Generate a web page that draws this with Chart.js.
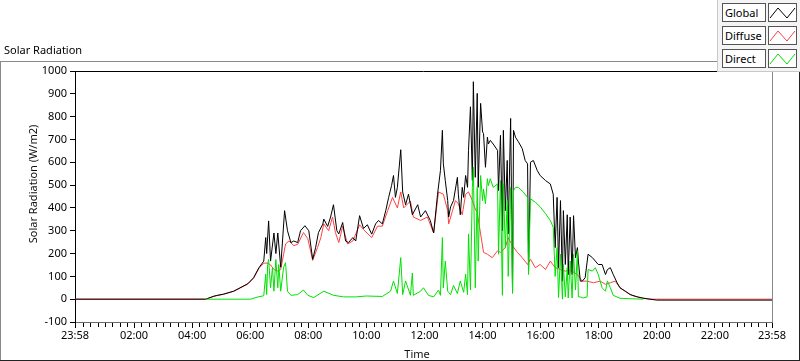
<!DOCTYPE html>
<html lang="en">
<head>
    <meta charset="UTF-8">
    <title>Solar Radiation</title>
    <script src="https://cdn.jsdelivr.net/npm/chart.js"></script>
    <style>
        body { margin: 0; background: #fff; font-family: "Noto Sans", sans-serif; }
        #wrap { position: relative; width: 800px; height: 361px; overflow: hidden; }
        #chart { position: absolute; left: 0; top: 0; }
        .frame { position: absolute; }
        #title { position: absolute; left: 4px; top: 42px; font-size: 11px; color: #000; }
        #ytitle { position: absolute; left: 32px; top: 184px; font-size: 11px; color: #111;
                  transform: translate(-50%, -50%) rotate(-90deg); white-space: nowrap; }
        #xtitle { position: absolute; left: 417px; top: 353px; font-size: 11px; color: #111;
                  transform: translate(-50%, -50%); }
        #legend { position: absolute; left: 717px; top: 0; width: 82px; height: 71px; background: #f4f4f4;
                  border-left: 1px solid #c8c8c8; border-bottom: 1px solid #c8c8c8; }
        .lbl { position: absolute; left: 4px; width: 40px; height: 17px; background: #fff; border: 1px solid #555;
               font-size: 11px; line-height: 17px; padding-left: 2px; box-sizing: content-box; color: #000; }
        .ico { position: absolute; left: 50px; width: 27px; height: 17px; background: #fff; border: 1px solid #555; }
    </style>
</head>
<body>
<div id="wrap">
    <canvas id="chart" width="800" height="361"></canvas>

    <!-- panel frame -->
    <div class="frame" style="left:0;top:61px;width:717px;height:1px;background:#8a8a8a"></div>
    <div class="frame" style="left:0;top:61px;width:1px;height:300px;background:#8a8a8a"></div>
    <div class="frame" style="left:0;top:360px;width:800px;height:1px;background:#222"></div>
    <div class="frame" style="left:799px;top:72px;width:1px;height:289px;background:#222"></div>

    <div id="title">Solar Radiation</div>
    <div id="ytitle">Solar Radiation (W/m2)</div>
    <div id="xtitle">Time</div>

    <div id="legend">
        <div class="lbl" style="top:3px">Global</div>
        <div class="ico" style="top:3px"><svg width="27" height="17"><polyline points="1,14 9,4 18,14 26,4" fill="none" stroke="#000" stroke-width="1"/></svg></div>
        <div class="lbl" style="top:26px">Diffuse</div>
        <div class="ico" style="top:26px"><svg width="27" height="17"><polyline points="1,14 9,4 18,14 26,4" fill="none" stroke="#ff4040" stroke-width="1"/></svg></div>
        <div class="lbl" style="top:49px">Direct</div>
        <div class="ico" style="top:49px"><svg width="27" height="17"><polyline points="1,14 9,4 18,14 26,4" fill="none" stroke="#00e000" stroke-width="1"/></svg></div>
    </div>
</div>

<script>
// time = minutes since midnight (-2 = 23:58 the day before, 1438 = 23:58)
const globalTime = [-2, 268, 285, 293, 305, 326, 355, 367, 378, 388, 392, 394, 398, 402, 409, 413, 417, 423, 431, 437,
    444, 450, 458, 464, 473, 481, 489, 495, 501, 510, 512, 520, 526, 532, 539, 543, 551, 557, 563, 572,
    578, 586, 594, 602, 611, 619, 625, 633, 640, 646, 652, 656, 660, 664, 671, 675, 681, 687, 695, 706,
    712, 722, 732, 739, 747, 753, 757, 759, 763, 768, 770, 774, 780, 788, 790, 794, 798, 801, 805, 809,
    811, 815, 819, 821, 825, 829, 831, 836, 840, 842, 846, 850, 852, 856, 862, 871, 873, 877, 881, 883,
    887, 891, 893, 898, 902, 904, 908, 914, 922, 928, 933, 935, 939, 945, 953, 959, 970, 980, 986, 990,
    994, 997, 1001, 1005, 1007, 1011, 1015, 1017, 1021, 1025, 1028, 1032, 1036, 1038, 1042, 1046, 1052, 1058, 1067, 1073,
    1079, 1087, 1094, 1098, 1104, 1110, 1118, 1124, 1135, 1145, 1160, 1172, 1186, 1200, 1438];
const globalValues = [0, 0, 13, 17, 22, 35, 68, 94, 138, 167, 270, 200, 343, 167, 290, 200, 290, 140, 388, 300,
    248, 255, 248, 300, 322, 300, 175, 225, 292, 329, 351, 319, 360, 414, 300, 286, 336, 255, 248, 270,
    255, 366, 310, 326, 285, 330, 345, 330, 388, 446, 498, 542, 446, 490, 655, 470, 414, 460, 370, 414,
    360, 388, 345, 290, 460, 564, 740, 593, 520, 432, 360, 405, 432, 534, 460, 370, 490, 446, 542, 490,
    652, 843, 520, 953, 534, 902, 490, 858, 733, 726, 578, 710, 680, 696, 680, 652, 476, 718, 300, 740,
    388, 608, 286, 792, 35, 740, 710, 690, 660, 608, 593, 123, 600, 608, 564, 542, 520, 505, 460, 226,
    446, 138, 432, 79, 388, 152, 370, 108, 360, 108, 366, 182, 226, 167, 79, 79, 94, 197, 182, 167,
    152, 152, 108, 130, 138, 108, 72, 50, 35, 20, 10, 4, 0, -4, -4];

const diffuseTime = [-2, 268, 285, 293, 305, 326, 355, 367, 378, 388, 396, 402, 409, 417, 423, 429, 433, 440, 450, 458,
    470, 479, 489, 499, 506, 512, 522, 530, 536, 543, 551, 561, 572, 586, 594, 611, 623, 633, 644, 654,
    664, 671, 677, 691, 697, 712, 726, 739, 749, 759, 768, 770, 778, 784, 790, 798, 805, 811, 819, 825,
    829, 836, 842, 850, 860, 871, 877, 887, 893, 902, 912, 922, 933, 939, 949, 959, 970, 980, 990, 1001,
    1011, 1021, 1036, 1046, 1056, 1069, 1083, 1094, 1104, 1114, 1124, 1139, 1151, 1166, 1186, 1438];
const diffuseValues = [0, 0, 13, 17, 22, 35, 66, 92, 135, 158, 158, 150, 130, 123, 130, 197, 242, 255, 235, 240,
    292, 265, 170, 226, 270, 330, 300, 360, 292, 248, 320, 242, 255, 326, 305, 270, 320, 320, 388, 446,
    400, 470, 400, 430, 360, 345, 360, 290, 470, 460, 388, 330, 388, 432, 418, 370, 460, 470, 432, 395,
    380, 286, 205, 197, 182, 212, 205, 226, 270, 234, 205, 182, 152, 175, 138, 152, 130, 167, 138, 130,
    123, 127, 108, 79, 79, 72, 79, 65, 72, 79, 50, 28, 15, 7, 0, 0];

const directTime = [268, 361, 376, 388, 392, 394, 396, 398, 402, 406, 409, 413, 417, 419, 423, 429, 433, 437, 444, 458,
    470, 479, 491, 512, 532, 553, 578, 600, 633, 650, 656, 664, 671, 675, 681, 691, 695, 697, 712, 718,
    728, 739, 749, 753, 757, 759, 763, 768, 774, 780, 788, 794, 801, 805, 809, 811, 815, 819, 821, 825,
    829, 831, 836, 840, 842, 846, 850, 852, 856, 862, 871, 873, 877, 881, 883, 887, 891, 893, 898, 902,
    904, 908, 914, 924, 933, 935, 939, 949, 959, 970, 980, 986, 990, 994, 997, 1001, 1005, 1007, 1011, 1015,
    1017, 1021, 1025, 1028, 1032, 1036, 1038, 1042, 1048, 1056, 1058, 1067, 1073, 1079, 1087, 1094, 1098, 1104, 1110, 1124,
    1145, 1172];
const directValues = [0, 0, 10, 15, 110, 20, 152, 174, 50, 140, 35, 174, 50, 152, 35, 140, 160, 35, 17, 20,
    40, 17, 7, 35, 17, 10, 10, 14, 12, 35, 80, 25, 182, 20, 80, 17, 115, 17, 35, 50,
    17, 10, 40, 17, 270, 50, 167, 35, 20, 60, 25, 80, 30, 110, 20, 286, 40, 490, 578, 50,
    490, 167, 542, 432, 483, 418, 528, 498, 528, 490, 505, 197, 520, 17, 505, 226, 432, 100, 490, 25,
    476, 490, 490, 470, 446, 108, 440, 425, 405, 375, 345, 315, 100, 226, 7, 197, 0, 152, 10, 138,
    5, 167, 5, 197, 40, 212, 10, 10, 5, 10, 130, 123, 138, 108, 50, 35, 80, 50, 17, 4,
    2, 0];

const majorTicks = [-2, 120, 240, 360, 480, 600, 720, 840, 960, 1080, 1200, 1320, 1438];

function toXY(times, values) {
    return times.map((t, i) => ({ x: t, y: values[i] }));
}

function fmtTime(v) {
    if (v < 0 || v >= 1438) return '23:58';
    const h = Math.floor(v / 60), m = v % 60;
    return String(h).padStart(2, '0') + ':' + String(m).padStart(2, '0');
}

// top/right plot border and minor ticks on the time axis
const framePlugin = {
    id: 'frame',
    afterDraw(chart) {
        const ctx = chart.ctx, a = chart.chartArea, x = chart.scales.x;
        ctx.save();
        ctx.lineWidth = 1;
        ctx.strokeStyle = '#000';
        ctx.beginPath();
        ctx.moveTo(a.left, a.top + 0.5);
        ctx.lineTo(a.right, a.top + 0.5);
        ctx.stroke();
        ctx.strokeStyle = '#8a8a8a';
        ctx.beginPath();
        ctx.moveTo(a.right + 0.5, a.top);
        ctx.lineTo(a.right + 0.5, a.bottom);
        ctx.stroke();
        ctx.strokeStyle = '#000';
        ctx.beginPath();
        for (let t = 15; t < 1438; t += 15) {
            if (t % 120 === 0) continue;
            const px = Math.round(x.getPixelForValue(t)) + 0.5;
            ctx.moveTo(px, a.bottom + 1);
            ctx.lineTo(px, a.bottom + 5);
        }
        ctx.stroke();
        ctx.restore();
    }
};

Chart.defaults.font.family = '"Noto Sans", sans-serif';
Chart.defaults.font.size = 11;
Chart.defaults.color = '#000';

new Chart(document.getElementById('chart'), {
    type: 'line',
    data: {
        datasets: [
            { label: 'Direct', data: toXY(directTime, directValues), borderColor: '#00e000', order: 0 },
            { label: 'Global', data: toXY(globalTime, globalValues), borderColor: '#000000', order: 1 },
            { label: 'Diffuse', data: toXY(diffuseTime, diffuseValues), borderColor: '#ff4040', order: 2 }
        ]
    },
    options: {
        responsive: false,
        animation: false,
        parsing: false,
        normalized: true,
        elements: {
            line: { borderWidth: 1, tension: 0, fill: false },
            point: { radius: 0 }
        },
        layout: { padding: { top: 71, right: 28, left: 0, bottom: 0 } },
        plugins: { legend: { display: false }, tooltip: { enabled: false } },
        scales: {
            x: {
                type: 'linear',
                min: -2,
                max: 1438,
                afterFit: s => { s.height = 39; },
                afterBuildTicks: s => { s.ticks = majorTicks.map(v => ({ value: v })); },
                ticks: { callback: v => fmtTime(v), padding: 1, maxRotation: 0, autoSkip: false },
                grid: { drawOnChartArea: false, tickLength: 6, color: '#000' },
                border: { display: true, color: '#6a6a6a' }
            },
            y: {
                min: -100,
                max: 1000,
                afterFit: s => { s.width = 75; },
                ticks: { stepSize: 100, padding: 3, callback: v => String(v) },
                grid: { drawOnChartArea: false, tickLength: 5, color: '#000' },
                border: { display: true, color: '#000' }
            }
        }
    },
    plugins: [framePlugin]
});
</script>
</body>
</html>
